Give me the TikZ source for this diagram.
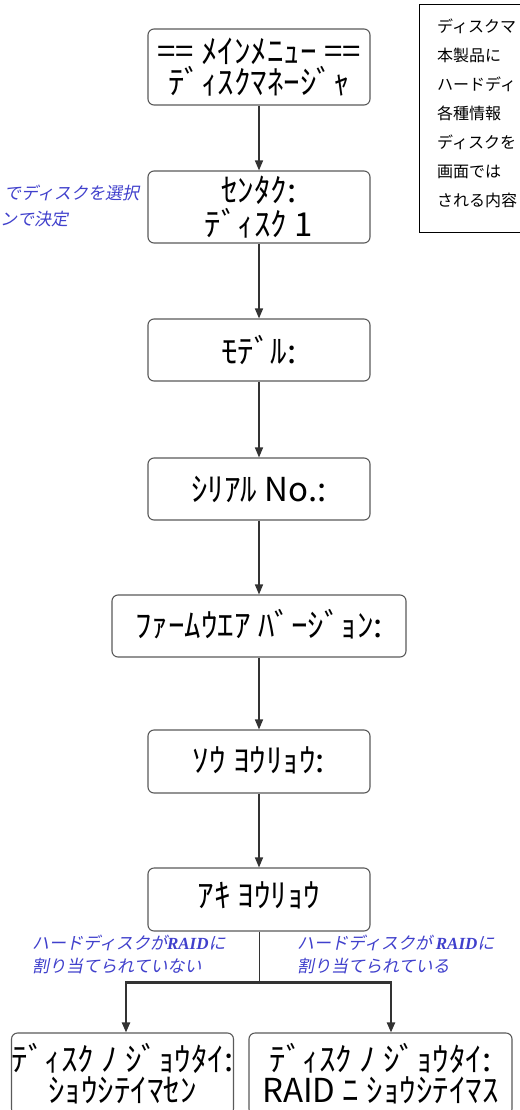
\documentclass[tikz,border=0pt]{standalone}
\usepackage{fontspec}
\setmainfont{Noto Sans CJK JP}
\newfontfamily\jp{Noto Sans CJK JP}
\newfontfamily\jpit{Noto Sans CJK JP}[FakeSlant=0.2]
\newfontfamily\rit{Liberation Serif}
\usetikzlibrary{arrows.meta,calc}
\definecolor{linec}{RGB}{51,51,51}
\definecolor{boxc}{RGB}{90,90,90}
\definecolor{bluec}{RGB}{64,64,204}
\tikzset{
  box/.style={draw=boxc, line width=1.1pt, rounded corners=6pt, fill=white,
    align=center, inner sep=0pt, font=\jp\fontsize{33}{31}\selectfont, text=black},
  arr/.style={draw=linec, line width=1.5pt, -{Triangle[length=10pt,width=8pt]}},
  blab/.style={text=bluec, align=left, inner sep=0pt, font=\jpit\fontsize{17}{23}\selectfont},
  note/.style={inner sep=0pt, align=left, font=\jp\fontsize{16}{29}\selectfont, anchor=north west}
}
\begin{document}
\begin{tikzpicture}[x=1pt,y=-1pt]
\useasboundingbox (0,0) rectangle (519,1110);
\fill[white] (0,0) rectangle (519,1110);
% boxes
\node[box, minimum width=222pt, minimum height=76pt] (b1) at (259,67) {== ﾒｲﾝﾒﾆｭｰ ==\\ﾃﾞｨｽｸﾏﾈｰｼﾞｬ};
\node[box, minimum width=222pt, minimum height=72pt] (b2) at (259,207) {\raisebox{-3pt}{\shortstack{ｾﾝﾀｸ:\\ﾃﾞｨｽｸ 1}}};
\node[box, minimum width=222pt, minimum height=62pt] (b3) at (259,350) {\raisebox{2pt}{ﾓﾃﾞﾙ:}};
\node[box, minimum width=222pt, minimum height=62pt] (b4) at (259,489) {ｼﾘｱﾙ No.:};
\node[box, minimum width=294pt, minimum height=62pt] (b5) at (259,626) {\raisebox{6pt}{ﾌｧｰﾑｳｴｱ ﾊﾞｰｼﾞｮﾝ:}};
\node[box, minimum width=222pt, minimum height=63pt] (b6) at (259,761.5) {\raisebox{3pt}{ｿｳ ﾖｳﾘｮｳ:}};
\node[box, minimum width=222pt, minimum height=63pt] (b7) at (259,899.5) {\raisebox{10pt}{ｱｷ ﾖｳﾘｮｳ}};
\node[box, minimum width=221pt, minimum height=82pt] (b8) at (122.5,1074) {\raisebox{-6pt}{\shortstack{ﾃﾞｨｽｸ ﾉ ｼﾞｮｳﾀｲ:\\ｼｮｳｼﾃｲﾏｾﾝ}}};
\node[box, minimum width=263pt, minimum height=82pt] (b9) at (380.5,1074) {\raisebox{-6pt}{\shortstack{ﾃﾞｨｽｸ ﾉ ｼﾞｮｳﾀｲ:\\RAID ﾆ ｼｮｳｼﾃｲﾏｽ}}};
% note box
\node[draw=black, line width=1pt, minimum width=120pt, minimum height=228pt, anchor=north west, inner sep=0pt] (nb) at (419,4) {};
\node[note] (nt) at (437,19) {ディスクマ\\本製品に\\ハードディ\\各種情報\\ディスクを\\画面では\\される内容};
% connectors
\draw[arr] (b1) -- (b2);
\draw[arr] (b2) -- (b3);
\draw[arr] (b3) -- (b4);
\draw[arr] (b4) -- (b5);
\draw[arr] (b5) -- (b6);
\draw[arr] (b6) -- (b7);
\coordinate (j) at ($(b7.south)+(0,51)$);
\draw[draw=linec, line width=0.9pt] (b7.south) -- (j);
\draw[arr, line width=2.2pt] (j) -| ($(b8.north)+(3.5,0)$);
\draw[arr, line width=2.2pt] (j) -| ($(b9.north)+(10.5,0)$);
% labels
\node[blab, anchor=west] (l0) at (4,193) {でディスクを選択};
\node[blab, anchor=west] (l0b) at (0,219) {ンで決定};
\node[blab, anchor=north west] (l1) at (32,935) {ハードディスクが{\rit\itshape\bfseries RAID}に\\割り当てられていない};
\node[blab, anchor=north west] (l2) at (297,935) {ハードディスクが {\rit\itshape\bfseries RAID}に\\割り当てられている};
\end{tikzpicture}
\end{document}
